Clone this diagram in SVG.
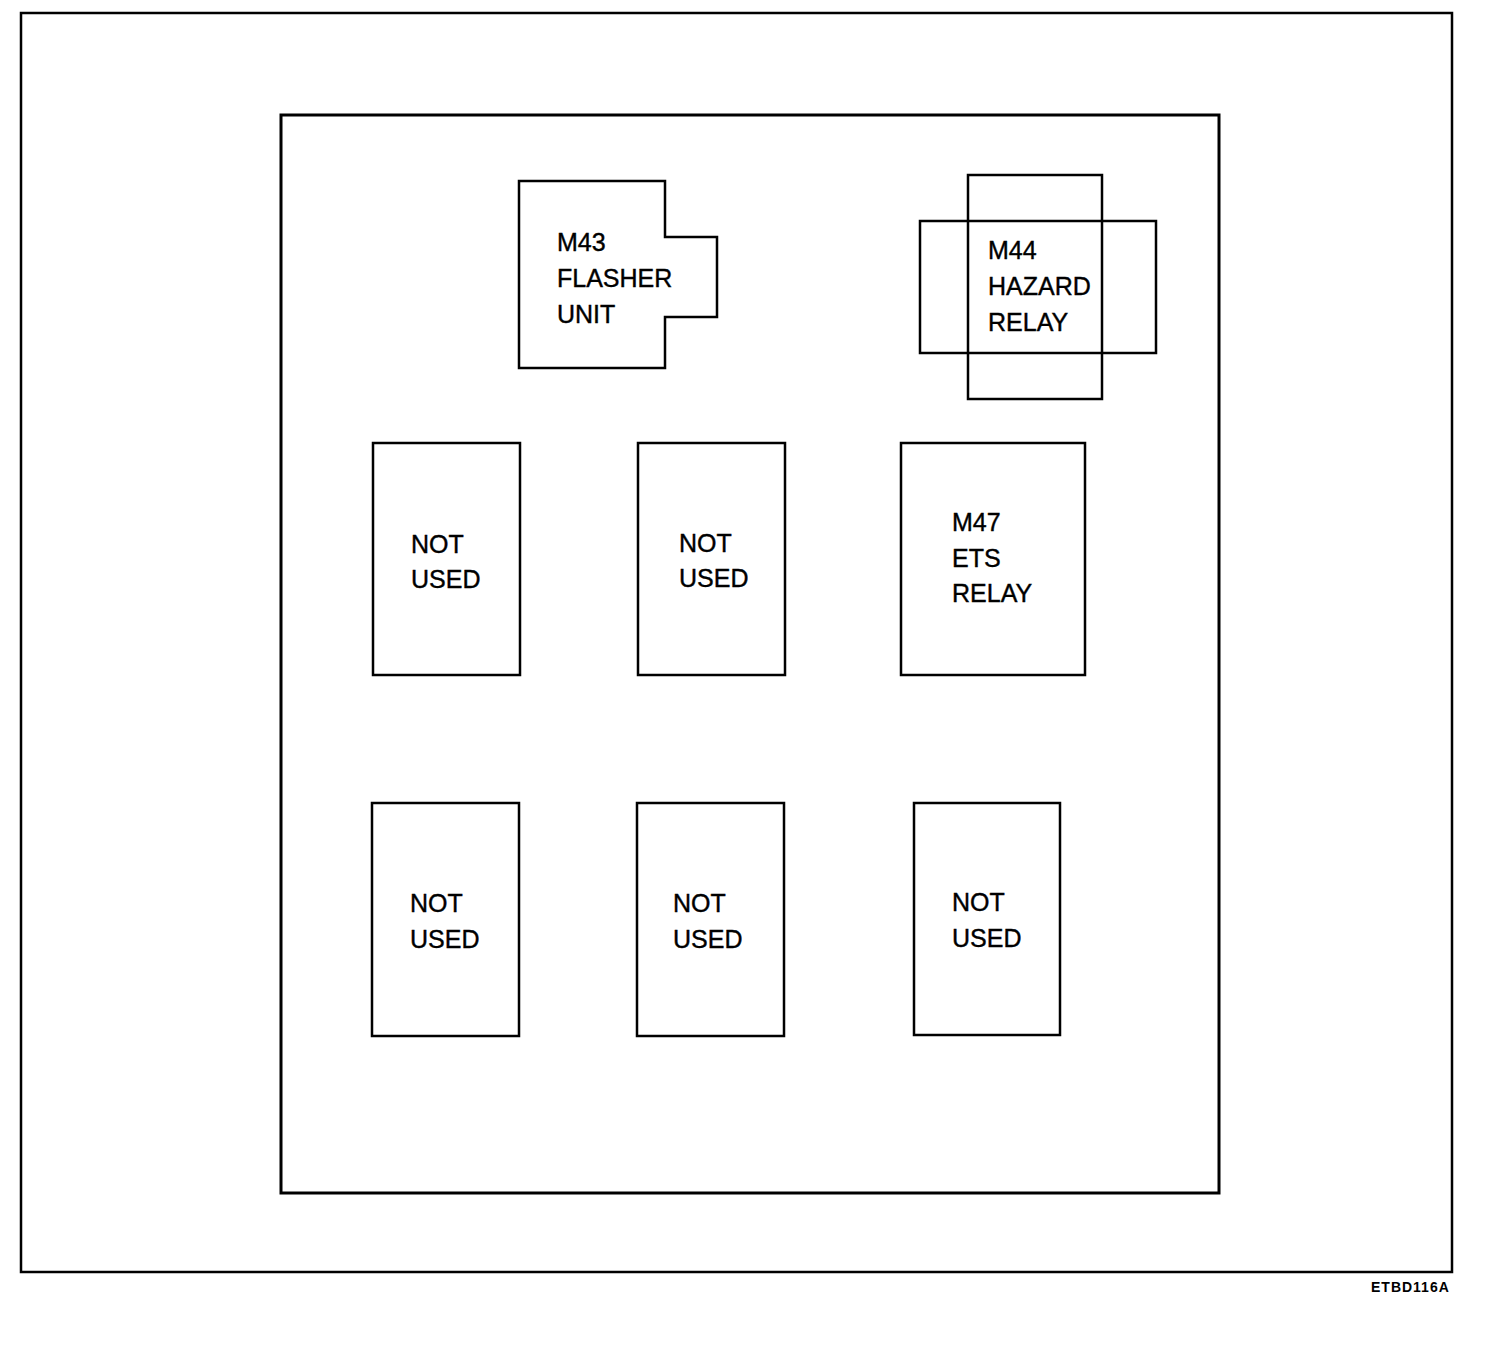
<svg xmlns="http://www.w3.org/2000/svg" width="1504" height="1352" viewBox="0 0 1504 1352">
<style>
.ln{fill:none;stroke:#000;stroke-width:2.5}
.t{font-family:"Liberation Sans",Arial,sans-serif;font-size:25px;fill:#000;stroke:#000;stroke-width:0.4}
.s{font-family:"Liberation Sans",Arial,sans-serif;font-size:14px;font-weight:bold;fill:#000;letter-spacing:1px}
</style>
<rect x="0" y="0" width="1504" height="1352" fill="#fff"/>
<g id="frame">
<rect class="ln" x="21" y="13" width="1431" height="1259"/>
<rect class="ln" x="281" y="115" width="938" height="1078" style="stroke-width:3"/>
</g>
<g id="m43">
<path class="ln" d="M519 181 H665 V237 H717 V317 H665 V368 H519 Z"/>
<text class="t" x="557" y="251">M43</text>
<text class="t" x="557" y="287">FLASHER</text>
<text class="t" x="557" y="323">UNIT</text>
</g>
<g id="m44">
<rect class="ln" x="968" y="175" width="134" height="224"/>
<rect class="ln" x="920" y="221" width="236" height="132"/>
<text class="t" x="988" y="259">M44</text>
<text class="t" x="988" y="295">HAZARD</text>
<text class="t" x="988" y="331">RELAY</text>
</g>
<g id="nu1">
<rect class="ln" x="373" y="443" width="147" height="232"/>
<text class="t" x="411" y="553">NOT</text>
<text class="t" x="411" y="588">USED</text>
</g>
<g id="nu2">
<rect class="ln" x="638" y="443" width="147" height="232"/>
<text class="t" x="679" y="552">NOT</text>
<text class="t" x="679" y="587">USED</text>
</g>
<g id="m47">
<rect class="ln" x="901" y="443" width="184" height="232"/>
<text class="t" x="952" y="531">M47</text>
<text class="t" x="952" y="567">ETS</text>
<text class="t" x="952" y="602">RELAY</text>
</g>
<g id="nu3">
<rect class="ln" x="372" y="803" width="147" height="233"/>
<text class="t" x="410" y="912">NOT</text>
<text class="t" x="410" y="948">USED</text>
</g>
<g id="nu4">
<rect class="ln" x="637" y="803" width="147" height="233"/>
<text class="t" x="673" y="912">NOT</text>
<text class="t" x="673" y="948">USED</text>
</g>
<g id="nu5">
<rect class="ln" x="914" y="803" width="146" height="232"/>
<text class="t" x="952" y="911">NOT</text>
<text class="t" x="952" y="947">USED</text>
</g>
<g id="connectors"></g>
<text class="s" x="1371" y="1292">ETBD116A</text>
</svg>
